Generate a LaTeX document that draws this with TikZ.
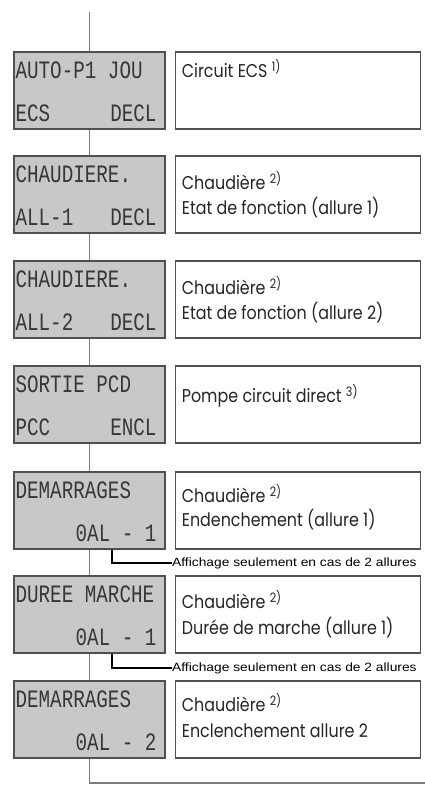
\documentclass[tikz,border=0pt]{standalone}
\usepackage{fontspec}
\usepackage{xcolor}
\setmainfont[FakeStretch=0.86]{Poppins}
\newfontfamily\lcdfont[FakeStretch=0.77]{Liberation Mono}
\newfontfamily\notefont[FakeStretch=1.15]{Liberation Sans}
\usetikzlibrary{positioning,calc}
\definecolor{lcdfill}{RGB}{200,200,200}
\definecolor{framegray}{RGB}{80,80,80}
\definecolor{linegray}{RGB}{125,125,125}
\definecolor{segdark}{RGB}{55,55,55}
\newcommand{\fnote}[1]{ \textsuperscript{#1}}

\begin{document}
\begin{tikzpicture}[x=1pt,y=-1pt,
    lcd/.style={draw=framegray,line width=1.3pt,fill=lcdfill,minimum width=151pt,minimum height=77pt,inner sep=0pt},
    descbox/.style={draw=framegray,line width=1.2pt,fill=white,minimum width=245pt,minimum height=77pt,inner sep=0pt},
    lcdrow/.style={anchor=base west,inner sep=0pt,text=segdark,font=\lcdfont\fontsize{25}{30}\selectfont},
    descline/.style={anchor=base west,inner sep=0pt,text=black!85,font=\fontsize{18.5}{22}\selectfont},
    note/.style={anchor=west,inner sep=0pt,font=\notefont\fontsize{12}{14}\selectfont},
    flow/.style={draw=linegray,line width=1.5pt},
    noteline/.style={draw=black,line width=1.2pt}]
    \useasboundingbox (0,0) rectangle (425,792);

    % displays
    \node[lcd] (lcd1) at (89.5,90.5) {};
    \node[lcd] (lcd2) at (89.5,194.5) {};
    \node[lcd] (lcd3) at (89.5,299.5) {};
    \node[lcd] (lcd4) at (89.5,404.5) {};
    \node[lcd] (lcd5) at (89.5,510.5) {};
    \node[lcd] (lcd6) at (89.5,614.5) {};
    \node[lcd] (lcd7) at (89.5,719.5) {};

    % descriptions
    \node[descbox,right=9pt of lcd1] (desc1) {};
    \node[descbox,right=9pt of lcd2] (desc2) {};
    \node[descbox,right=9pt of lcd3] (desc3) {};
    \node[descbox,right=9pt of lcd4] (desc4) {};
    \node[descbox,right=9pt of lcd5] (desc5) {};
    \node[descbox,right=9pt of lcd6] (desc6) {};
    \node[descbox,right=9pt of lcd7] (desc7) {};

    % flow line
    \coordinate (start) at (89.5,12);
    \coordinate (finish) at (425,783);
    \draw[flow] (start) -- (lcd1.north);
    \draw[flow] (lcd1) -- (lcd2);
    \draw[flow] (lcd2) -- (lcd3);
    \draw[flow] (lcd3) -- (lcd4);
    \draw[flow] (lcd4) -- (lcd5);
    \draw[flow] (lcd5) -- (lcd6);
    \draw[flow] (lcd6) -- (lcd7);
    \draw[flow] (lcd7.south) |- (finish);
    % redraw displays over the line
    \foreach \i in {1,...,7} {
        \node[lcd] at (lcd\i) {};
    }

    % display texts
    \node[lcdrow] (r1a) at ([shift={(2,27)}]lcd1.north west) {AUTO-P1 JOU};
    \node[lcdrow] (r1b) at ([shift={(2,70)}]lcd1.north west) {\hbox to 141pt{ECS\hfill DECL}};
    \node[lcdrow] (r2a) at ([shift={(2,27)}]lcd2.north west) {CHAUDIERE.};
    \node[lcdrow] (r2b) at ([shift={(2,70)}]lcd2.north west) {\hbox to 141pt{ALL-1\hfill DECL}};
    \node[lcdrow] (r3a) at ([shift={(2,27)}]lcd3.north west) {CHAUDIERE.};
    \node[lcdrow] (r3b) at ([shift={(2,70)}]lcd3.north west) {\hbox to 141pt{ALL-2\hfill DECL}};
    \node[lcdrow] (r4a) at ([shift={(2,27)}]lcd4.north west) {SORTIE PCD};
    \node[lcdrow] (r4b) at ([shift={(2,70)}]lcd4.north west) {\hbox to 141pt{PCC\hfill ENCL}};
    \node[lcdrow] (r5a) at ([shift={(2,27)}]lcd5.north west) {DEMARRAGES};
    \node[lcdrow] (r5b) at ([shift={(2,70)}]lcd5.north west) {\hbox to 141pt{\hfill 0AL - 1}};
    \node[lcdrow] (r6a) at ([shift={(2,27)}]lcd6.north west) {DUREE MARCHE};
    \node[lcdrow] (r6b) at ([shift={(2,70)}]lcd6.north west) {\hbox to 141pt{\hfill 0AL - 1}};
    \node[lcdrow] (r7a) at ([shift={(2,27)}]lcd7.north west) {DEMARRAGES};
    \node[lcdrow] (r7b) at ([shift={(2,70)}]lcd7.north west) {\hbox to 141pt{\hfill 0AL - 2}};

    % description texts
    \node[descline] (t1a) at ([shift={(7,26)}]desc1.north west) {Circuit ECS\fnote{1)}};
    \node[descline] (t2a) at ([shift={(7,34)}]desc2.north west) {Chaudière\fnote{2)}};
    \node[descline] (t2b) at ([shift={(7,59)}]desc2.north west) {Etat de fonction (allure 1)};
    \node[descline] (t3a) at ([shift={(7,34)}]desc3.north west) {Chaudière\fnote{2)}};
    \node[descline] (t3b) at ([shift={(7,59)}]desc3.north west) {Etat de fonction (allure 2)};
    \node[descline] (t4a) at ([shift={(7,37)}]desc4.north west) {Pompe circuit direct\fnote{3)}};
    \node[descline] (t5a) at ([shift={(7,31)}]desc5.north west) {Chaudière\fnote{2)}};
    \node[descline] (t5b) at ([shift={(7,55)}]desc5.north west) {Endenchement (allure 1)};
    \node[descline] (t6a) at ([shift={(7,33)}]desc6.north west) {Chaudière\fnote{2)}};
    \node[descline] (t6b) at ([shift={(7,59)}]desc6.north west) {Durée de marche (allure 1)};
    \node[descline] (t7a) at ([shift={(7,31)}]desc7.north west) {Chaudière\fnote{2)}};
    \node[descline] (t7b) at ([shift={(7,57)}]desc7.north west) {Enclenchement allure 2};

    % notes on 2-stage display
    \node[note] (note1) at (172,563) {Affichage seulement en cas de 2 allures};
    \node[note] (note2) at (172,668) {Affichage seulement en cas de 2 allures};
    \coordinate (n1) at ([xshift=22.5pt]lcd5.south);
    \coordinate (n2) at ([xshift=22.5pt]lcd6.south);
    \draw[noteline] (n1) |- (note1.west);
    \draw[noteline] (n2) |- (note2.west);
\end{tikzpicture}
\end{document}
